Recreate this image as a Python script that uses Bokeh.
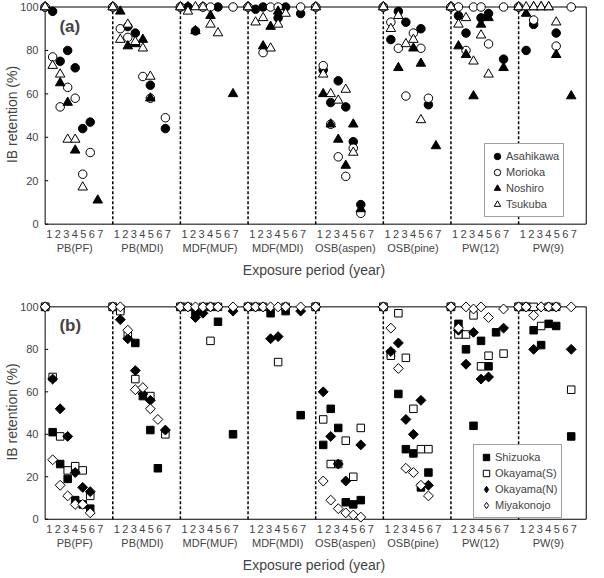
from bokeh.plotting import figure
from bokeh.layouts import column
from bokeh.models import (FixedTicker, LinearAxis, Range1d, Legend, LegendItem, Label)
from bokeh.embed import file_html
from bokeh.resources import INLINE

groups = ["PB(PF)", "PB(MDI)", "MDF(MUF)", "MDF(MDI)", "OSB(aspen)", "OSB(pine)", "PW(12)", "PW(9)"]
years = [0, 1, 2, 3, 4, 5, 6, 7]
year_labels = ["1", "2", "3", "4", "5", "6", "7"]
y_ticks = [0, 20, 40, 60, 80, 100]
N = None

# panel (a)  rows = groups, columns = year 0..7
asahikawa = [
    [100, 98, 75, 80, 72, 44, 47, N],
    [100, N, 91, 88, N, 64, N, 44],
    [100, 100, 89, 100, N, 100, N, N],
    [100, 99, 100, N, 95, 100, N, 97],
    [100, 71, 56, 66, 54, 38, 9, N],
    [100, 85, 98, 93, N, 90, 55, N],
    [100, 96, 88, N, 95, 97, N, 76],
    [100, 80, 92, N, N, 88, N, N],
]
morioka = [
    [100, 77, 54, 63, 58, 23, 33, N],
    [100, 90, 86, N, 68, 58, N, 49],
    [100, N, N, 100, 100, N, N, 100],
    [100, N, 79, 100, 100, N, N, 100],
    [100, 73, 46, 31, 22, 35, 5, N],
    [100, 93, 81, 59, 88, 81, 58, N],
    [100, 100, 80, 100, 100, 83, N, 100],
    [100, N, 94, N, N, 82, N, 100],
]
noshiro = [
    [100, N, 65, 56, 34, N, N, 11],
    [100, 98, 82, 83, 85, 58, N, N],
    [100, 100, 89, N, 96, N, N, 60],
    [100, N, 82, 91, 98, N, N, N],
    [100, 60, 46, 39, 27, 46, 7, N],
    [100, N, 72, N, 81, 74, N, 36],
    [100, 82, 78, 59, 92, 95, N, 72],
    [100, 97, 100, 100, 100, 78, N, 59],
]
tsukuba = [
    [100, 73, 69, 39, 39, 17, N, N],
    [100, 85, 92, 84, 81, 68, N, N],
    [100, 98, 100, 100, 92, 88, N, N],
    [100, 93, 95, 81, 92, 97, N, N],
    [100, 69, 60, 57, 62, 33, N, N],
    [100, 90, 96, 83, 85, 48, N, N],
    [100, 92, 95, 75, 87, 69, N, N],
    [100, 100, 100, 100, 100, 93, N, N],
]

# panel (b)
shizuoka = [
    [100, 41, 26, 19, 9, 7, 5, N],
    [100, 99, N, 83, 58, 42, 24, N],
    [100, N, 97, N, 100, 93, N, 40],
    [100, N, N, 97, N, 98, N, 49],
    [100, 35, 52, 43, 8, 7, 9, N],
    [100, 78, 59, 33, 31, 15, 22, N],
    [100, 92, 80, 44, 84, 72, 88, N],
    [100, 100, 89, 82, 92, 91, N, 39],
]
okayama_s = [
    [100, 67, 39, 23, 25, 23, 11, N],
    [100, 98, 87, 66, N, 58, N, 40],
    [100, 100, N, 100, 84, 100, N, N],
    [100, 100, 100, N, 74, 100, N, N],
    [100, 47, 26, 26, 37, 20, 43, N],
    [100, 77, 97, 76, 52, 33, 33, N],
    [100, 87, 87, 96, 72, 77, N, 78],
    [100, 100, 100, 91, 100, 100, N, 61],
]
okayama_n = [
    [100, 66, 52, 39, 22, 15, 13, N],
    [100, 94, 85, 70, 59, 56, N, 42],
    [100, 100, 95, 97, 100, N, N, 98],
    [100, 100, 100, 85, 86, 100, N, 98],
    [100, 60, 39, 26, 18, N, 35, N],
    [100, 79, 83, 47, 40, 56, 16, N],
    [100, 89, 73, 88, 66, 67, N, 90],
    [100, 100, 80, 100, 100, 100, N, 80],
]
miyakonojo = [
    [100, 28, 16, 11, 7, 7, 3, N],
    [100, 100, 89, 61, 62, 52, 47, N],
    [100, 100, 100, 100, 100, 100, N, 100],
    [100, 100, 100, 100, 100, 100, N, 100],
    [100, 18, 9, 5, 3, 2, 1, N],
    [100, 90, 71, 24, 22, 16, 11, N],
    [100, 90, 100, 99, 100, 95, N, 99],
    [100, 100, 96, 100, 100, 100, N, 100],
]

FONT = "Liberation Sans"
SPAN = 9  # x units per material group
XMAX = SPAN * len(groups)
DIAMOND_ANGLE = 0.7854


def to_xy(rows):
    xs, ys = [], []
    for g, row in enumerate(rows):
        for k, v in zip(years, row):
            if v is not None:
                xs.append(g * SPAN + k)
                ys.append(v)
    return xs, ys


def make_panel(series, tag, height, top, bottom, legend_loc):
    p = figure(width=588, height=height, x_range=Range1d(-0.75, XMAX + 0.3),
               y_range=Range1d(-2, 103), output_backend="svg", toolbar_location=None,
               min_border_left=39, min_border_right=0, min_border_top=top,
               min_border_bottom=bottom)
    p.outline_line_color = None
    p.grid.visible = False

    # x axis: year labels under each group
    pos = {}
    for g in range(len(groups)):
        for i, lab in enumerate(year_labels):
            pos[round(g * SPAN + 0.55 + 1.13 * i, 2)] = lab
    xa = p.xaxis[0]
    xa.ticker = FixedTicker(ticks=list(pos.keys()), minor_ticks=[])
    xa.major_label_overrides = pos
    xa.axis_line_color = None
    xa.major_tick_line_color = None
    xa.minor_tick_line_color = None
    xa.major_tick_out = 0
    xa.major_tick_in = 0
    xa.minor_tick_out = 0
    xa.major_label_standoff = 1
    xa.major_label_text_font = FONT
    xa.major_label_text_font_size = "11px"

    cen = {round(g * SPAN + 3.94, 2): name for g, name in enumerate(groups)}
    ax2 = LinearAxis(ticker=FixedTicker(ticks=list(cen.keys()), minor_ticks=[]),
                     major_label_overrides=cen, axis_line_color=None,
                     major_tick_line_color=None, minor_tick_line_color=None,
                     major_tick_out=0, major_tick_in=0, minor_tick_out=0,
                     major_label_standoff=1, major_label_text_font=FONT,
                     major_label_text_font_size="11px",
                     axis_label="Exposure period (year)", axis_label_text_font=FONT,
                     axis_label_text_font_size="14px", axis_label_text_font_style="normal",
                     axis_label_standoff=5)
    p.add_layout(ax2, "below")

    ya = p.yaxis[0]
    ya.ticker = FixedTicker(ticks=y_ticks, minor_ticks=[])
    ya.axis_line_color = None
    ya.major_tick_line_color = None
    ya.minor_tick_line_color = None
    ya.major_tick_out = 0
    ya.major_tick_in = 0
    ya.minor_tick_out = 0
    ya.major_label_standoff = 1
    ya.major_label_text_font = FONT
    ya.major_label_text_font_size = "11px"
    ya.axis_label = "IB retention (%)"
    ya.axis_label_text_font = FONT
    ya.axis_label_text_font_size = "14px"
    ya.axis_label_text_font_style = "normal"
    ya.axis_label_standoff = -3

    # frame box and group separators
    p.segment(x0=[0, 0, 0, XMAX], y0=[0, 0, 100, 0], x1=[0, XMAX, XMAX, XMAX],
              y1=[100, 0, 100, 100], line_color="black", line_width=1)
    seps = [g * SPAN for g in range(1, len(groups))]
    p.segment(x0=seps, y0=[0] * len(seps), x1=seps, y1=[100] * len(seps),
              line_color="black", line_width=1.5, line_dash="3 2")
    p.segment(x0=[0] * len(y_ticks), y0=y_ticks, x1=[0.4] * len(y_ticks), y1=y_ticks,
              line_color="black", line_width=1)

    items = []
    for name, rows, marker, size, angle, filled, leg_marker in series:
        xs, ys = to_xy(rows)
        fill = "black" if filled else "white"
        proxy = None
        if leg_marker is not None:
            # legend swatch: legends ignore marker angle, so a zero-size
            # diamond twin (hidden under the real marks) supplies the swatch
            proxy = p.scatter(xs, ys, marker=leg_marker, size=0,
                              line_color="black", line_width=1, fill_color=fill)
        r = p.scatter(xs, ys, marker=marker, size=size, angle=angle,
                      line_color="black", line_width=1, fill_color=fill)
        items.append(LegendItem(label=name, renderers=[proxy if proxy is not None else r]))

    leg = Legend(items=items, location=legend_loc, glyph_height=16, glyph_width=16,
                 label_height=14, spacing=0, padding=4, margin=0, label_standoff=1,
                 label_text_font=FONT, label_text_font_size="11px",
                 border_line_color="#444444", border_line_width=1,
                 background_fill_color="white", background_fill_alpha=1.0)
    p.add_layout(leg)

    p.add_layout(Label(x=1.9, y=91, text=tag, text_font=FONT, text_font_size="17px",
                       text_font_style="bold", text_baseline="middle", text_align="left"))
    return p


pa = make_panel([
    ("Asahikawa", asahikawa, "circle", 8.5, 0, True, None),
    ("Morioka", morioka, "circle", 8.5, 0, False, None),
    ("Noshiro", noshiro, "triangle", 9.5, 0, True, None),
    ("Tsukuba", tsukuba, "triangle", 9.5, 0, False, None),
], "(a)", 280, 0, 50, (445, 11))

pb = make_panel([
    ("Shizuoka", shizuoka, "square", 7.5, 0, True, None),
    ("Okayama(S)", okayama_s, "square", 7.5, 0, False, None),
    ("Okayama(N)", okayama_n, "square", 7, DIAMOND_ANGLE, True, "diamond"),
    ("Miyakonojo", miyakonojo, "square", 7, DIAMOND_ANGLE, False, "diamond"),
], "(b)", 295, 20, 48, (434, 5))

layout = column(pa, pb, spacing=0)
open("out.html", "w").write(file_html(layout, INLINE))
